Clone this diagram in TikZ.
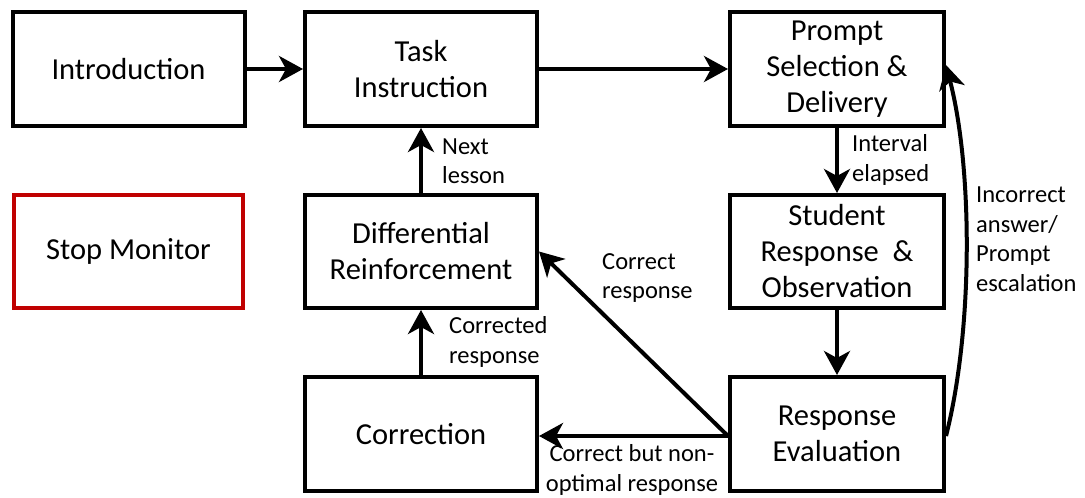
\documentclass[tikz,border=0pt]{standalone}
\usepackage{fontspec}
\setmainfont{Carlito}
\usetikzlibrary{arrows.meta}
\definecolor{stopred}{HTML}{C00000}
\tikzset{
  box/.style={draw=black, line width=4, minimum width=232, minimum height=114,
    align=center, inner sep=2, font=\fontsize{30.5}{36}\selectfont},
  flow/.style={line width=4, -{Stealth[length=24, width=26, inset=7]}},
  lbl/.style={align=left, inner sep=0, font=\fontsize{24.5}{29.5}\selectfont},
}
\begin{document}
\begin{tikzpicture}[x=1pt, y=-1pt]
  \useasboundingbox (0,0) rectangle (1085,498);
  % process boxes
  \node[box] (intro) at (128.5,69) {Introduction};
  \node[box] (task) at (421,69) {Task\\Instruction};
  \node[box, minimum width=214] (prompt) at (837,69) {Prompt\\Selection \&\\Delivery};
  \node[box, draw=stopred, minimum width=229, minimum height=113] (stop) at (128.5,251.5) {Stop Monitor};
  \node[box, minimum height=113] (diff) at (421,251.5) {Differential\\Reinforcement};
  \node[box, minimum width=214, minimum height=113] (student) at (837,251.5) {Student\\Response~~\&\\Observation};
  \node[box] (corr) at (421,434) {Correction};
  \node[box, minimum width=214] (eval) at (837,434) {Response\\Evaluation};
  % connectors
  \draw[flow] (intro.east) -- (task.west);
  \draw[flow] (task.east) -- (prompt.west);
  \draw[flow] (prompt.south) -- (student.north);
  \draw[flow] (student.south) -- (eval.north);
  \draw[flow] ([yshift=-2]eval.west) -- ([yshift=-2]corr.east);
  \draw[flow] ([yshift=-2]eval.west) -- (diff.east);
  \draw[flow] (corr.north) -- (diff.south);
  \draw[flow] (diff.north) -- (task.south);
  \draw[flow] ([yshift=-2]eval.east) .. controls (973,330) and (973,170) .. ([yshift=4]prompt.east);
  % connector labels
  \node[lbl, anchor=west] (lnext) at (442,161) {Next\\lesson};
  \node[lbl, anchor=west] (lint) at (852,160) {Interval\\elapsed};
  \node[lbl, anchor=west] (lcr) at (602,278) {Correct\\response};
  \node[lbl, anchor=west] (lcorr) at (449,342) {Corrected\\response};
  \node[lbl, align=center] (lnon) at (632,470) {Correct but non-\\optimal response};
  \node[lbl, anchor=west] (linc) at (976,239) {Incorrect\\answer/\\Prompt\\escalation};
\end{tikzpicture}
\end{document}
